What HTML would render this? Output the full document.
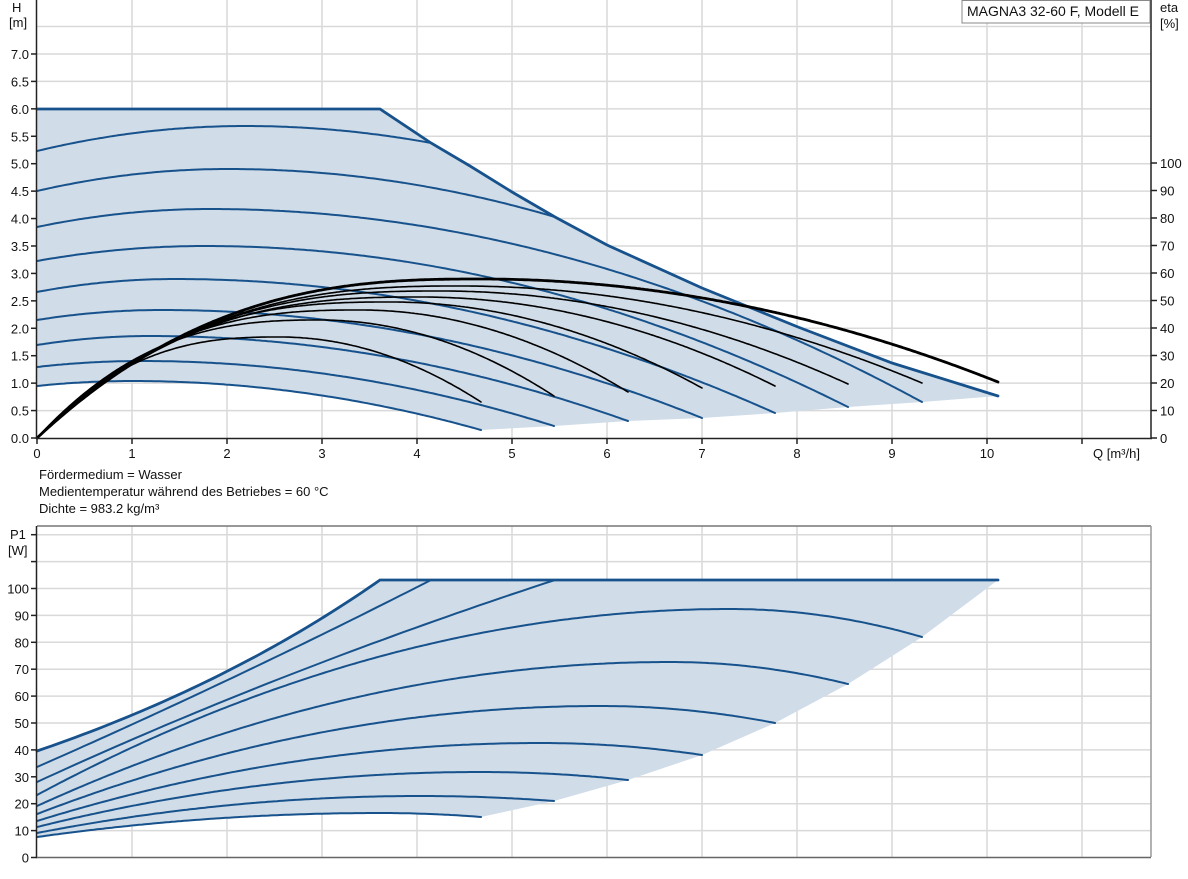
<!DOCTYPE html>
<html><head><meta charset="utf-8">
<style>
html,body{margin:0;padding:0;background:#fff;}
svg{display:block;font-family:"Liberation Sans",Arial,sans-serif;font-size:13px;}
</style></head>
<body>
<svg id="s" width="1188" height="879" viewBox="0 0 1188 879" xmlns="http://www.w3.org/2000/svg">
<g id="grid" stroke="#d9d9d9" stroke-width="1.5" fill="none"></g>
<g id="fills"></g>
<g id="curves" fill="none" stroke-linecap="round"></g>
<g id="axes" stroke="#222" stroke-width="1.5"></g>
<g id="labels" fill="#111">
<text x="12" y="12" font-size="13">H</text>
<text x="9" y="27" font-size="13">[m]</text>
<text x="1160" y="12">eta</text>
<text x="1160" y="28">[%]</text>
<text x="1093" y="458">Q [m³/h]</text>
<text x="39" y="479">Fördermedium = Wasser</text>
<text x="39" y="496">Medientemperatur während des Betriebes = 60 °C</text>
<text x="39" y="513">Dichte = 983.2 kg/m³</text>
<text x="10" y="539">P1</text>
<text x="8" y="555">[W]</text>
</g>
<rect x="962" y="0.5" width="188" height="22.5" fill="#fff" stroke="#888" stroke-width="1"/>
<text x="967" y="16" font-size="14" fill="#111">MAGNA3 32-60 F, Modell E</text>
<g id="ticklabels" fill="#111"></g>
</svg>
<script>
const NS="http://www.w3.org/2000/svg";
function el(parent,tag,attrs,text){const e=document.createElementNS(NS,tag);for(const k in attrs)e.setAttribute(k,attrs[k]);if(text!==undefined)e.textContent=text;document.getElementById(parent).appendChild(e);return e;}
const X0=37,DX=95;
for(let k=1;k<=11;k++){const x=X0+DX*k;el('grid','line',{x1:x,y1:0,x2:x,y2:438});el('grid','line',{x1:x,y1:526,x2:x,y2:857});}
const HY=v=>438-v*54.86;
for(let i=1;i<=16;i++){const y=HY(i*0.5);if(y<0)break;el('grid','line',{x1:X0,y1:y,x2:1151,y2:y});}
const PY=v=>857.5-v*2.69;
for(let i=1;i<=12;i++){const y=PY(i*10);el('grid','line',{x1:X0,y1:y,x2:1151,y2:y});}
el('grid','line',{x1:X0,y1:526,x2:1151,y2:526,stroke:'#777'});
el('grid','line',{x1:1151,y1:526,x2:1151,y2:857,stroke:'#999'});
el('axes','line',{x1:36.5,y1:0,x2:36.5,y2:439});
el('axes','line',{x1:36,y1:438.5,x2:1152,y2:438.5});
el('axes','line',{x1:1151,y1:0,x2:1151,y2:439});
el('axes','line',{x1:36.5,y1:526,x2:36.5,y2:858});
el('axes','line',{x1:36,y1:857.5,x2:1151,y2:857.5,stroke:'#666'});
for(let i=0;i<=14;i++){const y=HY(i*0.5);el('axes','line',{x1:31,y1:y,x2:37,y2:y});el('ticklabels','text',{x:29,y:y+5,'text-anchor':'end'},(i*0.5).toFixed(1));}
for(let i=0;i<=10;i++){const y=438-i*27.5;el('axes','line',{x1:1151,y1:y,x2:1157,y2:y});el('ticklabels','text',{x:1160,y:y+5},String(i*10));}
for(let k=0;k<=11;k++){const x=X0+DX*k;el('axes','line',{x1:x,y1:438,x2:x,y2:444});if(k<=10)el('ticklabels','text',{x:x,y:458,'text-anchor':'middle'},String(k));}
for(let i=0;i<=12;i++){const y=PY(i*10);el('axes','line',{x1:31,y1:y,x2:37,y2:y});if(i<=10)el('ticklabels','text',{x:29,y:y+5,'text-anchor':'end'},String(i*10));}

const BLUE='#17528c';
function quadPeak(x0,y0,xp,yp,xe,ye){const pts=[];for(let x=x0;x<xe;x+=3){let y;if(x<=xp)y=yp+(y0-yp)*Math.pow((x-xp)/(xp-x0),2);else y=yp+(ye-yp)*Math.pow((x-xp)/(xe-xp),2);pts.push([x,y]);}pts.push([xe,ye]);return pts;}
function d(pts){return 'M'+pts.map(p=>p[0].toFixed(1)+','+p[1].toFixed(1)).join(' L');}
function bez(p0,c,p1){const pts=[];for(let t=0;t<=1.0001;t+=0.02){const a=(1-t)*(1-t),b=2*t*(1-t),cc=t*t;pts.push([a*p0[0]+b*c[0]+cc*p1[0],a*p0[1]+b*c[1]+cc*p1[1]]);}return pts;}

const maxH=[[37,109],[380,109],[431,143],[470,166],[512,192],[555,217],[607,245],[702,288],[798,327],[892,363],[998,396]];
const bottomEnds=[[998,396],[922,402],[848,407],[775,413],[702,418],[628,421],[554,426],[481,430]];
const hc=[
 [151,245,126,431,143],
 [191,228,169,555,217],
 [227,210,209,922,402],
 [261,205,246,848,407],
 [292,175,279,775,413],
 [320,162,310,702,418],
 [345,150,336,628,421],
 [367,142,361,554,426],
 [386,132,381,481,430]];
const hpts=hc.map(c=>quadPeak(37,c[0],c[1],c[2],c[3],c[4]));
let fillPts=maxH.concat(bottomEnds.slice(1)).concat(hpts[8].slice().reverse());
el('fills','path',{d:d(fillPts)+'Z',fill:'#d0dce8'});
hpts.forEach(p=>el('curves','path',{d:d(p),stroke:BLUE,'stroke-width':2}));
el('curves','path',{d:d(maxH),stroke:BLUE,'stroke-width':2.8});

function etaCurve(xp,yp,xe,ye){const p=xp-37,Ep=438-yp,Ee=438-ye,n=2.6;
 const pts=[];
 for(let x=37;x<xe;x+=2){let E;if(x<=xp){const u=x-37;E=Ep*(1-Math.pow(1-u/p,n));}else{E=Ep-(Ep-Ee)*Math.pow((x-xp)/(xe-xp),2);}pts.push([x,438-E]);}
 pts.push([xe,ye]);return pts;}
const ec=[[280,337,481,402],[320,320,554,396],[360,310,628,392],[390,302,702,388],[420,297,775,386],[440,291,848,384],[460,286,922,383]];
ec.forEach(c=>el('curves','path',{d:d(etaCurve(...c)),stroke:'#000','stroke-width':1.6}));
el('curves','path',{d:d(etaCurve(480,279,998,382)),stroke:'#000','stroke-width':2.8});

const aPts=bez([37,751],[230,685],[380,580]);
const pEnds=[[998,580],[922,637],[848,684],[775,723],[702,755],[628,780],[554,801],[481,817]];
const pc=[[795,730,609,922,637],[806,670,662,848,684],[814,600,706,775,723],[821,540,743,702,755],[827,480,772,628,780],[833,420,796,554,801],[837,380,813,481,817]];
const ppts=pc.map(c=>quadPeak(37,c[0],c[1],c[2],c[3],c[4]));
let pf=aPts.concat([[998,580]]).concat(pEnds.slice(1)).concat(ppts[6].slice().reverse());
el('fills','path',{d:d(pf)+'Z',fill:'#d0dce8'});
ppts.forEach(p=>el('curves','path',{d:d(p),stroke:BLUE,'stroke-width':2}));
el('curves','path',{d:d(bez([37,767],[235,680],[431,580])),stroke:BLUE,'stroke-width':2});
el('curves','path',{d:d(bez([37,782],[280,670],[555,580])),stroke:BLUE,'stroke-width':2});
el('curves','path',{d:d(aPts.concat([[998,580]])),stroke:BLUE,'stroke-width':2.8});
</script>
</body></html>
